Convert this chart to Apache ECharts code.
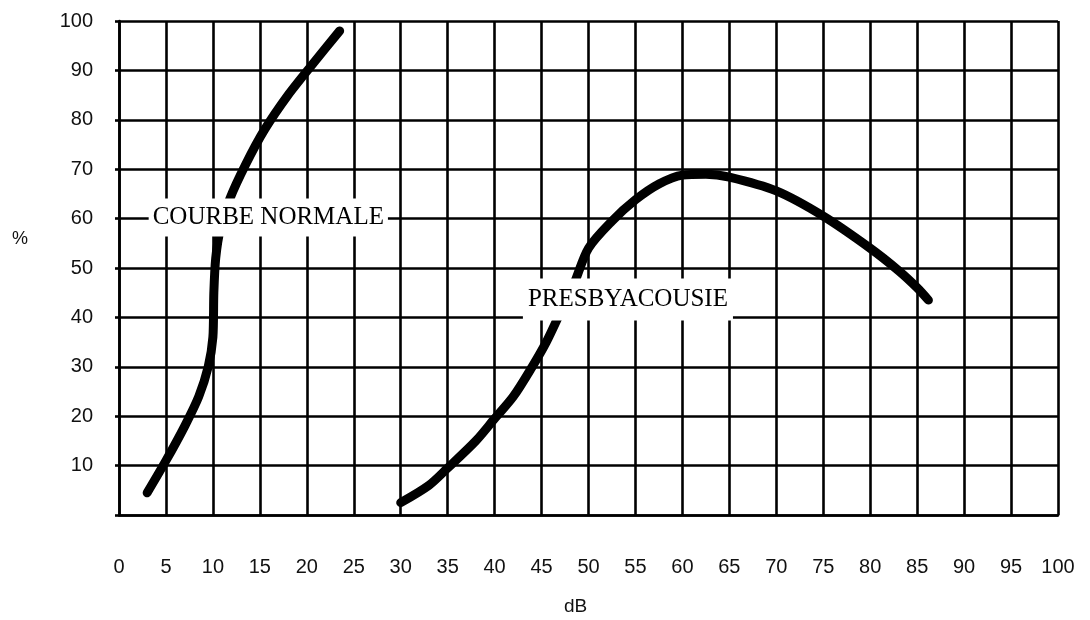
<!DOCTYPE html>
<html>
<head>
<meta charset="utf-8">
<script src="https://cdn.jsdelivr.net/npm/echarts@6/dist/echarts.min.js"></script>
<style>
html,body{margin:0;padding:0;background:#fff;}
#c{width:1090px;height:620px;}
</style>
</head>
<body>
<div id="c"></div>
<script>
// x axis: dB, y axis: %
const xTicks = [0,5,10,15,20,25,30,35,40,45,50,55,60,65,70,75,80,85,90,95,100];
const yTicks = [10,20,30,40,50,60,70,80,90,100];

// COURBE NORMALE  [dB, %]
const normaleDb  = [3, 5, 7, 8.5, 9.5, 10, 10.1, 10.3, 10.8, 11.8, 13.5, 15.5, 18, 20.5, 23.5];
const normalePct = [4.5, 11, 18, 24, 30, 36, 45, 52, 58, 64, 71, 78, 85, 91, 98];

// PRESBYACOUSIE  [dB, %]
const presbyDb  = [30, 33, 35, 38, 40, 42, 44, 45.5, 47, 48.5, 50, 52.5, 55, 57.5, 60, 62.5, 65, 70, 75, 80, 83, 85, 86.2];
const presbyPct = [2.5, 6, 9.5, 15, 19.5, 24, 30, 35, 41, 47, 54, 59.5, 63.8, 67, 68.8, 69, 68.4, 65.6, 60.5, 54, 49.5, 46, 43.5];

// curve labels [name, dB, %]
const curveLabels = [
  ['COURBE NORMALE', 15.9, 60.2],
  ['PRESBYACOUSIE', 54.2, 43.6]
];

const zip = (a, b) => a.map((v, i) => [v, b[i]]);
const gridLine = {color: '#000', width: 2.6};
const labelPads = [[5, 4, 9, 4], [13, 5, 5, 5]];

const chart = echarts.init(document.getElementById('c'), null, {renderer: 'canvas'});
chart.setOption({
  backgroundColor: '#fff',
  animation: false,
  grid: {left: 119, right: 32, top: 21, bottom: 105},
  xAxis: {
    type: 'value', min: 0, max: 100, interval: 5,
    axisLine: {show: true, lineStyle: gridLine},
    axisTick: {show: false},
    splitLine: {show: true, lineStyle: gridLine},
    axisLabel: {
      margin: 42, color: '#111', fontFamily: 'Liberation Sans, Arial, sans-serif', fontSize: 20,
      formatter: v => xTicks.includes(v) ? String(v) : ''
    }
  },
  yAxis: {
    type: 'value', min: 0, max: 100, interval: 10,
    axisLine: {show: true, lineStyle: gridLine},
    axisTick: {show: true, length: 4, lineStyle: gridLine},
    splitLine: {show: true, lineStyle: gridLine},
    axisLabel: {
      margin: 26, color: '#111', fontFamily: 'Liberation Sans, Arial, sans-serif', fontSize: 20,
      formatter: v => yTicks.includes(v) ? String(v) : ''
    }
  },
  graphic: [
    {type: 'text', left: 12, top: 230, style: {text: '%', font: '18px "Liberation Sans", Arial, sans-serif', fill: '#111'}},
    {type: 'text', left: 564, top: 597, style: {text: 'dB', font: '19px "Liberation Sans", Arial, sans-serif', fill: '#111'}}
  ],
  series: [
    {
      type: 'line', name: 'COURBE NORMALE', data: zip(normaleDb, normalePct),
      showSymbol: false, symbol: 'none', smooth: 0.25, z: 3,
      lineStyle: {color: '#000', width: 9, cap: 'round', join: 'round'}
    },
    {
      type: 'line', name: 'PRESBYACOUSIE', data: zip(presbyDb, presbyPct),
      showSymbol: false, symbol: 'none', smooth: 0.3, z: 3,
      lineStyle: {color: '#000', width: 9, cap: 'round', join: 'round'}
    },
    {
      type: 'scatter', z: 10, symbolSize: 1, silent: true,
      itemStyle: {opacity: 1, color: '#fff'},
      emphasis: {disabled: true},
      data: curveLabels.map((l, i) => ({
        value: [l[1], l[2]], name: l[0],
        label: {padding: labelPads[i]}
      })),
      label: {
        show: true, position: 'inside',
        formatter: p => p.name,
        fontFamily: 'Liberation Serif, Times New Roman, serif',
        fontSize: 25, color: '#000', lineHeight: 24, opacity: 1,
        backgroundColor: '#fff'
      }
    }
  ]
});
</script>
</body>
</html>
